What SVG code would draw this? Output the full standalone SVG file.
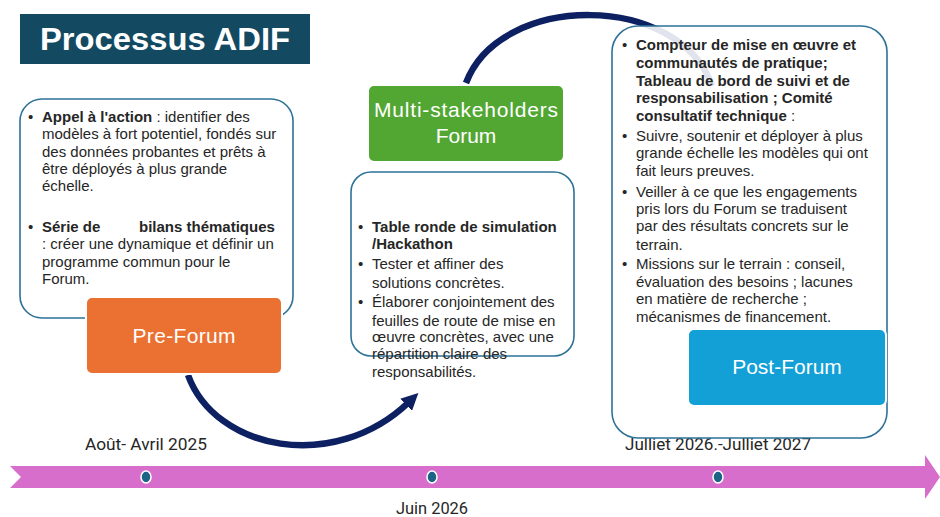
<svg xmlns="http://www.w3.org/2000/svg" width="940" height="517" viewBox="0 0 940 517">
<style>
.box{fill:#ffffff;fill-opacity:0.88;stroke:#2e7296;stroke-width:1.6}
.t{font-family:"Liberation Sans",Arial,sans-serif;font-size:15px;fill:#262626}
.b{font-weight:bold}
.lbl{font-family:"Liberation Sans",Arial,sans-serif;font-size:21px;fill:#ffffff;text-anchor:middle}
.date{font-family:Roboto,"Liberation Sans",sans-serif;font-size:16px;fill:#262626;text-anchor:middle}
.arc{fill:none;stroke:#0c2062;stroke-width:6.5}
.dot{fill:#1b6486;stroke:#ffffff;stroke-width:1.5}
</style>
<defs>
<marker id="ah" markerWidth="17" markerHeight="17" refX="4" refY="8.5" orient="auto" markerUnits="userSpaceOnUse">
<path d="M0,0 L17,8.5 L0,17 z" fill="#0c2062"/>
</marker>
</defs>
<rect width="940" height="517" fill="#ffffff"/>

<g id="timeline">
<path d="M10,466 L925,466 L925,455 L940,477 L925,499 L925,488 L10,488 L21,477 z" fill="#d86ecc"/>
<ellipse class="dot" cx="146" cy="477" rx="5" ry="6"/>
<ellipse class="dot" cx="432" cy="477" rx="5" ry="6"/>
<ellipse class="dot" cx="718" cy="477" rx="5" ry="6"/>
<text class="date" x="146" y="450" textLength="122" lengthAdjust="spacingAndGlyphs">Août- Avril 2025</text>
<text class="date" x="432" y="514" textLength="72" lengthAdjust="spacingAndGlyphs">Juin 2026</text>
<text class="date" x="718" y="450" textLength="186" lengthAdjust="spacingAndGlyphs">Julliet 2026.-Julliet 2027</text>
</g>

<g id="connectors">
<path class="arc" d="M466,83 C500,-8 680,-8 712,86"/>
<path class="arc" d="M188,375 C215,450 334,474 409,402" marker-end="url(#ah)"/>
</g>

<g id="title">
<rect x="20" y="14" width="290" height="50" fill="#134a62"/>
<text x="165" y="50" text-anchor="middle" font-family="'Liberation Sans',Arial,sans-serif" font-size="32" font-weight="bold" fill="#ffffff" textLength="250" lengthAdjust="spacingAndGlyphs">Processus ADIF</text>
</g>

<g id="pre-box">
<rect class="box" x="20" y="99" width="273" height="219" rx="22"/>
<text class="t" x="28" y="122">•</text>
<text class="t" x="42" y="122"><tspan class="b">Appel à l'action</tspan> : identifier des</text>
<text class="t" x="42" y="139">modèles à fort potentiel, fondés sur</text>
<text class="t" x="42" y="157">des données probantes et prêts à</text>
<text class="t" x="42" y="174">être déployés à plus grande</text>
<text class="t" x="42" y="191">échelle.</text>
<text class="t" x="28" y="232">•</text>
<text class="t b" x="42" y="232">Série de</text>
<text class="t b" x="139" y="232">bilans thématiques</text>
<text class="t" x="42" y="249">: créer une dynamique et définir un</text>
<text class="t" x="42" y="267">programme commun pour le</text>
<text class="t" x="42" y="284">Forum.</text>
</g>

<g id="pre-forum">
<rect x="86" y="297" width="196" height="77" rx="6" fill="#ea7131" stroke="#ffffff" stroke-width="2"/>
<text class="lbl" x="184" y="343" textLength="103">Pre-Forum</text>
</g>

<g id="forum">
<rect x="368" y="85" width="196" height="77" rx="6" fill="#52a733" stroke="#ffffff" stroke-width="2"/>
<text class="lbl" x="466" y="117" textLength="184">Multi-stakeholders</text>
<text class="lbl" x="466" y="143">Forum</text>
</g>

<g id="mid-box">
<rect class="box" x="351" y="172" width="223" height="184" rx="20"/>
<text class="t" x="358" y="232">•</text>
<text class="t b" x="372" y="232">Table ronde de simulation</text>
<text class="t b" x="372" y="249">/Hackathon</text>
<text class="t" x="358" y="269">•</text>
<text class="t" x="372" y="269">Tester et affiner des</text>
<text class="t" x="372" y="288">solutions concrètes.</text>
<text class="t" x="358" y="307">•</text>
<text class="t" x="372" y="307">Élaborer conjointement des</text>
<text class="t" x="372" y="326">feuilles de route de mise en</text>
<text class="t" x="372" y="342">œuvre concrètes, avec une</text>
<text class="t" x="372" y="359">répartition claire des</text>
<text class="t" x="372" y="377">responsabilités.</text>
</g>

<g id="post-box">
<rect class="box" x="612" y="26" width="275" height="412" rx="26"/>
<text class="t" x="622" y="50">•</text>
<text class="t b" x="636" y="50">Compteur de mise en œuvre et</text>
<text class="t b" x="636" y="68">communautés de pratique;</text>
<text class="t b" x="636" y="86">Tableau de bord de suivi et de</text>
<text class="t b" x="636" y="103">responsabilisation ; Comité</text>
<text class="t" x="636" y="121"><tspan class="b">consultatif technique</tspan> :</text>
<text class="t" x="622" y="141">•</text>
<text class="t" x="636" y="141">Suivre, soutenir et déployer à plus</text>
<text class="t" x="636" y="158">grande échelle les modèles qui ont</text>
<text class="t" x="636" y="176">fait leurs preuves.</text>
<text class="t" x="622" y="197">•</text>
<text class="t" x="636" y="197">Veiller à ce que les engagements</text>
<text class="t" x="636" y="214">pris lors du Forum se traduisent</text>
<text class="t" x="636" y="231">par des résultats concrets sur le</text>
<text class="t" x="636" y="250">terrain.</text>
<text class="t" x="622" y="269">•</text>
<text class="t" x="636" y="269">Missions sur le terrain : conseil,</text>
<text class="t" x="636" y="287">évaluation des besoins ; lacunes</text>
<text class="t" x="636" y="304">en matière de recherche ;</text>
<text class="t" x="636" y="322">mécanismes de financement.</text>
</g>

<g id="post-forum">
<rect x="688" y="329" width="198" height="77" rx="6" fill="#12a0d6" stroke="#ffffff" stroke-width="2"/>
<text class="lbl" x="787" y="374">Post-Forum</text>
</g>
</svg>
